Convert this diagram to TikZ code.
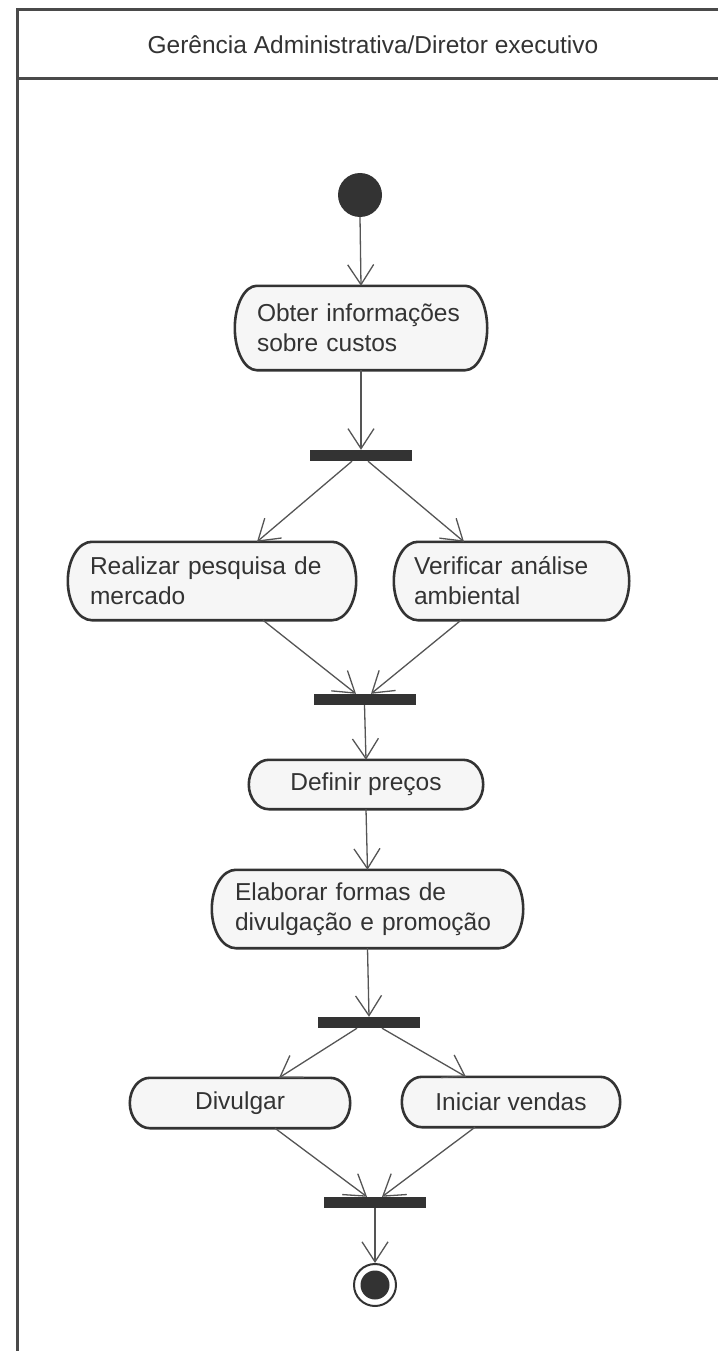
\documentclass[tikz,border=0pt]{standalone}
\usepackage{fontspec}
\setmainfont{Liberation Sans}
\usetikzlibrary{arrows.meta,calc,backgrounds}

\definecolor{ink}{HTML}{333333}
\definecolor{edge}{HTML}{555555}
\definecolor{boxfill}{HTML}{F6F6F6}
\definecolor{frame}{HTML}{4A4A4A}

\begin{document}
\begin{tikzpicture}[x=1pt,y=1pt,
  txt/.style={font=\fontsize{24.5}{30}\selectfont, text=ink},
  actbox/.style={txt, rectangle, inner sep=0pt},
  forkbar/.style={rectangle, fill=ink, draw=none, minimum width=102pt, minimum height=11pt, inner sep=0pt},
  flow/.style={draw=edge, line width=1.3pt, -{Straight Barb[length=20pt,width=26pt,line width=1.3pt]}},
  outline/.style={draw=ink, line width=2.6pt, fill=boxfill},
  framestroke/.style={draw=frame, line width=3pt}
]
\useasboundingbox (0,0) rectangle (718,-1351);

% swimlane frame and header
\draw[framestroke] (718,-10) -- (17,-10) -- (17,-1351);
\draw[framestroke] (17,-79) -- (718,-79);
\node[txt] (lane) at (373,-45) {Gerência Administrativa/Diretor executivo};

% initial and final states
\node[circle, fill=ink, minimum size=44pt, inner sep=0pt] (start) at (360,-195) {};
\node[circle, draw=ink, line width=2pt, minimum size=42pt, inner sep=0pt] (endring) at (375,-1285) {};
\node[circle, fill=ink, minimum size=29pt, inner sep=0pt] (enddot) at (endring.center) {};

% actions
\node[actbox, minimum width=252pt, minimum height=84pt, text width=208pt, align=left] (a1) at (361,-328) {Obter informações\\sobre custos};
\node[actbox, minimum width=288pt, minimum height=78pt, text width=244pt, align=left] (a2) at (212,-581) {Realizar pesquisa de\\mercado};
\node[actbox, minimum width=235pt, minimum height=78pt, text width=195pt, align=left] (a3) at (511.5,-581) {Verificar análise\\ambiental};
\node[actbox, minimum width=234pt, minimum height=49pt] (a4) at (366,-784.5) {Definir preços};
\node[actbox, minimum width=311pt, minimum height=78pt, text width=265pt, align=left] (a5) at (367.5,-909) {Elaborar formas de\\divulgação e promoção};
\node[actbox, minimum width=220pt, minimum height=50pt] (a6) at (240,-1103) {Divulgar};
\node[actbox, minimum width=218pt, minimum height=50pt] (a7) at (511,-1102) {Iniciar vendas};

% fork / join bars
\node[forkbar] (f1) at (361,-455.5) {};
\node[forkbar] (f2) at (364.5,-699.5) {};
\node[forkbar] (f3) at (369,-1022.5) {};
\node[forkbar] (f4) at (375,-1202.5) {};

% action outlines with rounded ends
\begin{scope}[on background layer]
\foreach \nm/\rx in {a1/22,a2/24,a3/24,a4/20,a5/24,a6/20,a7/20}{
  \path[outline] let \p1=(\nm.north west), \p2=(\nm.south east), \n1={(\y1-\y2)/2} in
    (\x1+\rx pt,\y1) -- (\x2-\rx pt,\y1)
    arc[start angle=90,end angle=-90,x radius=\rx pt,y radius=\n1]
    -- (\x1+\rx pt,\y2)
    arc[start angle=270,end angle=90,x radius=\rx pt,y radius=\n1] -- cycle;
}
\end{scope}

% control flow
\draw[flow] (start.south) -- (a1.north);
\draw[flow] (a1.south) -- (f1.north);
\draw[flow] ([xshift=-9pt]f1.south) -- ([xshift=45pt]a2.north);
\draw[flow] ([xshift=7pt]f1.south) -- ([xshift=-47.5pt]a3.north);
\draw[flow] ([xshift=51pt]a2.south) -- ([xshift=-8.5pt]f2.north);
\draw[flow] ([xshift=-50.5pt]a3.south) -- ([xshift=6.5pt]f2.north);
\draw[flow] (f2.south) -- (a4.north);
\draw[flow] (a4.south) -- (a5.north);
\draw[flow] (a5.south) -- (f3.north);
\draw[flow] ([xshift=-12pt]f3.south) -- ([xshift=39pt]a6.north);
\draw[flow] ([xshift=13pt]f3.south) -- ([xshift=-45pt]a7.north);
\draw[flow] ([xshift=35pt]a6.south) -- ([xshift=-8pt]f4.north);
\draw[flow] ([xshift=-36pt]a7.south) -- ([xshift=7pt]f4.north);
\draw[flow] (f4.south) -- (endring.north);
\end{tikzpicture}
\end{document}
